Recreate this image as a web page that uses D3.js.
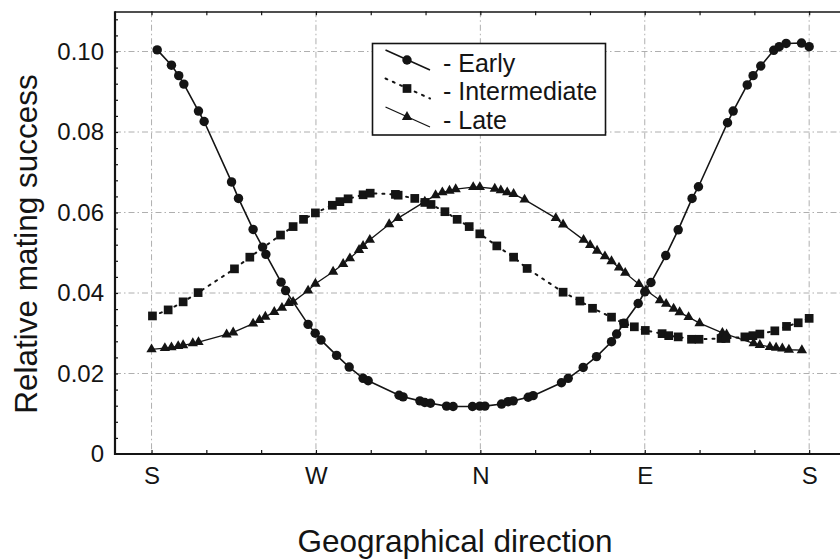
<!DOCTYPE html>
<html>
<head>
<meta charset="utf-8">
<script src="https://cdn.jsdelivr.net/npm/d3@7"></script>
<style>
  html, body { margin: 0; padding: 0; background: #fff; }
  svg { display: block; font-family: "Liberation Sans", Arial, Helvetica, sans-serif; }
</style>
</head>
<body>
<svg id="chart" width="840" height="560"></svg>
<script>
// ---- data (direction in degrees: S=0, W=90, N=180, E=270, S=360) ----
const directionTicks = [0, 90, 180, 270, 360];
const directionLabels = ["S", "W", "N", "E", "S"];
const valueTicks = [0, 0.02, 0.04, 0.06, 0.08, 0.10];

const earlyDir = [3.1, 10.9, 14.9, 17.7, 25.7, 28.8, 43.8, 47.6, 55.6, 60.8, 62.6, 70.9, 73.4, 85.7, 89.6, 92.8,
  101.3, 108.2, 115.8, 118.6, 135.5, 137.7, 146.9, 149.6, 152.7, 161.5, 165.1, 175.7, 179.7, 182.5, 191.6, 195.2,
  198.0, 206.2, 208.9, 224.4, 228.1, 236.3, 243.6, 251.8, 254.6, 258.6, 266.4, 270.0, 273.4, 281.5, 288.3, 295.9,
  299.4, 315.3, 318.4, 326.1, 329.3, 333.5, 340.6, 343.6, 347.4, 355.8, 360.0];
const earlyVal = [0.1004, 0.0966, 0.0940, 0.0919, 0.0852, 0.0826, 0.0676, 0.0635, 0.0558, 0.0514, 0.0496, 0.0427,
  0.0406, 0.0322, 0.0300, 0.0283, 0.0245, 0.0216, 0.0188, 0.0182, 0.0146, 0.0142, 0.0132, 0.0128, 0.0126, 0.0119,
  0.0118, 0.0118, 0.0119, 0.0119, 0.0124, 0.0130, 0.0132, 0.0141, 0.0145, 0.0177, 0.0188, 0.0215, 0.0242, 0.0279,
  0.0298, 0.0325, 0.0374, 0.0403, 0.0426, 0.0493, 0.0557, 0.0635, 0.0664, 0.0823, 0.0852, 0.0917, 0.0940, 0.0964,
  0.1003, 0.1012, 0.1020, 0.1021, 0.1012];

const intermediateDir = [0.5, 9.1, 17.3, 25.5, 45.4, 53.8, 70.6, 77.5, 83.2, 89.7, 99.0, 103.1, 107.6, 115.8, 119.7,
  133.5, 135.0, 144.1, 149.6, 153.0, 160.6, 167.3, 173.9, 179.7, 189.0, 198.2, 205.6, 225.3, 234.5, 241.4, 251.8,
  258.6, 264.3, 270.3, 279.5, 283.1, 288.3, 295.6, 299.7, 311.8, 314.4, 324.8, 329.2, 333.0, 341.2, 347.6, 354.0, 360.0];
const intermediateVal = [0.0343, 0.0358, 0.0378, 0.0401, 0.0460, 0.0489, 0.0544, 0.0565, 0.0583, 0.0599, 0.0618,
  0.0627, 0.0634, 0.0644, 0.0648, 0.0645, 0.0643, 0.0635, 0.0625, 0.0620, 0.0602, 0.0583, 0.0565, 0.0547, 0.0517,
  0.0489, 0.0461, 0.0402, 0.0380, 0.0362, 0.0340, 0.0324, 0.0316, 0.0307, 0.0299, 0.0294, 0.0291, 0.0285, 0.0285,
  0.0287, 0.0287, 0.0291, 0.0294, 0.0298, 0.0306, 0.0317, 0.0326, 0.0337];

const lateDir = [0.0, 7.3, 10.9, 14.6, 17.3, 22.6, 25.7, 41.1, 44.7, 55.6, 59.1, 62.3, 67.2, 71.4, 75.1, 77.5, 85.7,
  89.7, 99.4, 104.9, 108.6, 113.6, 115.8, 119.5, 130.1, 135.0, 149.6, 155.5, 159.2, 163.1, 166.5, 176.1, 179.7, 187.9,
  191.2, 194.7, 198.2, 204.2, 221.3, 225.3, 236.5, 240.1, 243.9, 248.2, 251.8, 255.9, 259.3, 266.8, 270.7, 278.3,
  281.7, 285.8, 289.1, 294.0, 300.0, 312.5, 314.8, 329.6, 333.0, 338.5, 341.9, 345.3, 348.9, 356.0];
const lateVal = [0.0260, 0.0263, 0.0265, 0.0268, 0.0270, 0.0275, 0.0278, 0.0297, 0.0302, 0.0324, 0.0333, 0.0341,
  0.0353, 0.0363, 0.0375, 0.0378, 0.0406, 0.0423, 0.0453, 0.0472, 0.0486, 0.0507, 0.0517, 0.0532, 0.0571, 0.0586,
  0.0627, 0.0643, 0.0650, 0.0654, 0.0658, 0.0663, 0.0663, 0.0659, 0.0655, 0.0650, 0.0646, 0.0632, 0.0586, 0.0570,
  0.0532, 0.0519, 0.0505, 0.0491, 0.0479, 0.0463, 0.0450, 0.0422, 0.0407, 0.0382, 0.0373, 0.0361, 0.0352, 0.0340,
  0.0325, 0.0301, 0.0297, 0.0275, 0.0271, 0.0266, 0.0264, 0.0262, 0.0259, 0.0258];

const seriesNames = ["- Early", "- Intermediate", "- Late"];
const axisTitleX = "Geographical direction";
const axisTitleY = "Relative mating success";

// ---- build ----
const svg = d3.select("#chart");
const ink = "#141414";
const x = d3.scaleLinear().domain([-20, 380]).range([115, 845.7]);
const y = d3.scaleLinear().domain([0, 0.11]).range([454, 11.25]);
const [x0, x1] = x.range();
const [yb, yt] = y.range();

// grid
const grid = svg.append("g").attr("stroke", "#9a9a9a").attr("stroke-width", 0.8)
  .attr("stroke-dasharray", "6,3,1.5,3").attr("fill", "none");
grid.selectAll("line.v").data(directionTicks).join("line").attr("class", "v")
  .attr("x1", d => x(d)).attr("x2", d => x(d)).attr("y1", yt).attr("y2", yb);
grid.selectAll("line.h").data(valueTicks.slice(1)).join("line").attr("class", "h")
  .attr("y1", d => y(d)).attr("y2", d => y(d)).attr("x1", x0).attr("x2", 840);

// minor ticks (inward)
const minorX = d3.range(0, 361, 30);
const minorY = d3.range(0.004, 0.1095, 0.004);
svg.append("g").attr("transform", `translate(0,${yb})`)
  .call(d3.axisBottom(x).tickValues(minorX).tickSize(-4).tickFormat(""))
  .call(g => g.select(".domain").remove())
  .selectAll("line").attr("stroke", ink).attr("stroke-width", 1.2);
svg.append("g").attr("transform", `translate(0,${yt})`)
  .call(d3.axisTop(x).tickValues(minorX).tickSize(-4).tickFormat(""))
  .call(g => g.select(".domain").remove())
  .selectAll("line").attr("stroke", ink).attr("stroke-width", 1.2);
svg.append("g").attr("transform", `translate(${x0},0)`)
  .call(d3.axisLeft(y).tickValues(minorY).tickSize(-3).tickFormat(""))
  .call(g => g.select(".domain").remove())
  .selectAll("line").attr("stroke", ink).attr("stroke-width", 1.2);

// labelled axes
const xAxis = svg.append("g").attr("transform", `translate(0,${yb})`)
  .call(d3.axisBottom(x).tickValues(directionTicks).tickSize(0).tickPadding(13)
    .tickFormat((d, i) => directionLabels[i]));
xAxis.select(".domain").remove();
xAxis.selectAll("text").attr("font-size", 24).attr("fill", ink)
  .attr("font-family", "Liberation Sans, Arial, sans-serif");

const yAxis = svg.append("g").attr("transform", `translate(${x0},0)`)
  .call(d3.axisLeft(y).tickValues(valueTicks).tickSize(0).tickPadding(11)
    .tickFormat(d => d === 0 ? "0" : d3.format(".2f")(d)));
yAxis.select(".domain").remove();
yAxis.selectAll("text").attr("font-size", 24).attr("fill", ink)
  .attr("font-family", "Liberation Sans, Arial, sans-serif");

// frame
svg.append("line").attr("x1", x0).attr("x2", x0).attr("y1", yt).attr("y2", yb + 1)
  .attr("stroke", ink).attr("stroke-width", 2.2);
svg.append("line").attr("x1", x0 - 1).attr("x2", 840).attr("y1", yb).attr("y2", yb)
  .attr("stroke", ink).attr("stroke-width", 2.2);
svg.append("line").attr("x1", x0).attr("x2", 840).attr("y1", yt + 0.75).attr("y2", yt + 0.75)
  .attr("stroke", ink).attr("stroke-width", 1.6);

// series
const series = [
  { dir: earlyDir, val: earlyVal, sym: d3.symbolCircle, size: 70, dash: null, width: 1.6 },
  { dir: intermediateDir, val: intermediateVal, sym: d3.symbolSquare, size: 76, dash: "2,6", width: 2 },
  { dir: lateDir, val: lateVal, sym: d3.symbolTriangle, size: 46, dash: null, width: 1.3 }
];
const line = d3.line().x(d => x(d[0])).y(d => y(d[1]));
series.forEach(s => {
  const pts = s.dir.map((d, i) => [d, s.val[i]]);
  svg.append("path").datum(pts).attr("d", line).attr("fill", "none")
    .attr("stroke", ink).attr("stroke-width", s.width)
    .attr("stroke-dasharray", s.dash).attr("stroke-linecap", s.dash ? "round" : "butt");
  svg.append("g").selectAll("path").data(pts).join("path")
    .attr("d", d3.symbol().type(s.sym).size(s.size))
    .attr("transform", d => `translate(${x(d[0])},${y(d[1])})`)
    .attr("fill", ink);
});

// legend
const lg = svg.append("g");
lg.append("rect").attr("x", 372.5).attr("y", 43.5).attr("width", 233).attr("height", 91.5)
  .attr("fill", "#fff").attr("stroke", ink).attr("stroke-width", 1.6);
series.forEach((s, i) => {
  const cy = 60 + i * 28.5;
  lg.append("line").attr("x1", 385.5).attr("y1", cy - 10).attr("x2", 430).attr("y2", cy + 10)
    .attr("stroke", ink).attr("stroke-width", s.width)
    .attr("stroke-dasharray", s.dash).attr("stroke-linecap", s.dash ? "round" : "butt");
  lg.append("path").attr("d", d3.symbol().type(s.sym).size(s.size))
    .attr("transform", `translate(407,${cy})`).attr("fill", ink);
  lg.append("text").attr("x", 443).attr("y", cy + 11.5).attr("font-size", 25)
    .attr("fill", ink).text(seriesNames[i]);
});

// axis titles
svg.append("text").attr("x", 455).attr("y", 551.5).attr("text-anchor", "middle")
  .attr("font-size", 31.5).attr("fill", ink).text(axisTitleX);
svg.append("text").attr("transform", "translate(37,244) rotate(-90)").attr("text-anchor", "middle")
  .attr("font-size", 31.5).attr("fill", ink).text(axisTitleY);
</script>
</body>
</html>
